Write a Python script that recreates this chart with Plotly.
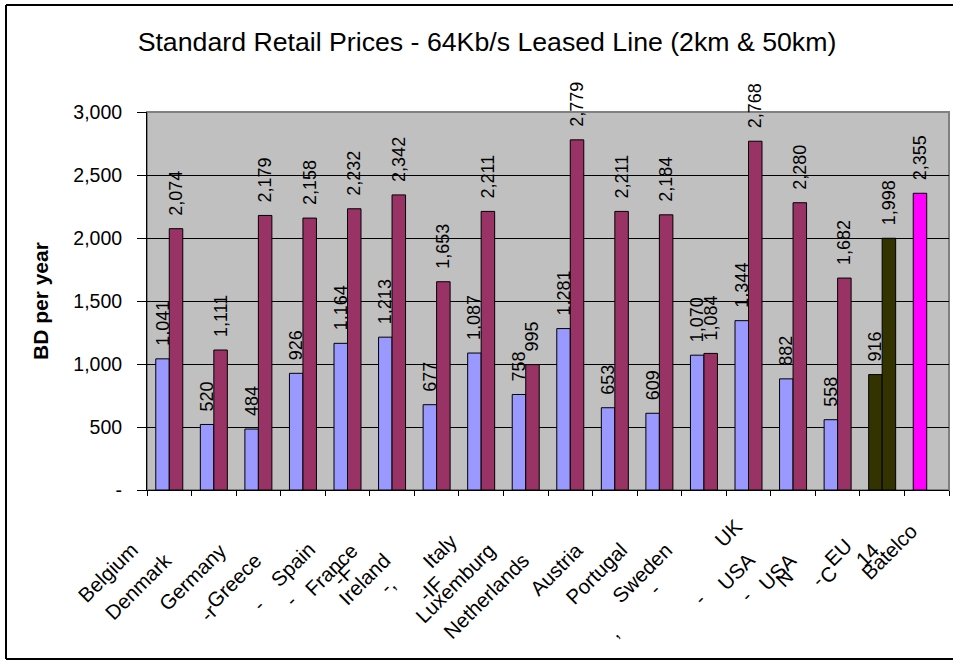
import plotly.graph_objects as go

# ---------------- data ----------------
categories = ["Belgium", "Denmark", "Germany", "Greece", "Spain", "France", "Ireland",
              "Italy", "Luxemburg", "Netherlands", "Austria", "Portugal", "Sweden",
              "UK", "USA", "USA N", "EU 14", "Batelco"]
price_2km = [1041, 520, 484, 926, 1164, 1213, 677, 1087, 758, 1281, 653, 609,
             1070, 1344, 882, 558, 916, 2355]
price_50km = [2074, 1111, 2179, 2158, 2232, 2342, 1653, 2211, 995, 2779, 2211, 2184,
              1084, 2768, 2280, 1682, 1998, None]

y_tick_values = [0, 500, 1000, 1500, 2000, 2500, 3000]
y_tick_labels = ["-", "500", "1,000", "1,500", "2,000", "2,500", "3,000"]

# x-axis label pieces as they appear (category index, text)
label_pieces = [(0, "Belgium"), (1, "Denmark"), (2, "Germany"), (3, "Greece"), (4, "Spain"),
                (5, "France"), (6, "Ireland"), (7, "Italy"), (8, "Luxemburg"),
                (9, "Netherlands"), (10, "Austria"), (11, "Portugal"), (12, "Sweden"),
                (13, "UK"), (14, "USA"), (15, "USA"), (15, "N"), (16, "EU"), (16, "14"),
                (16, "C"), (17, "Batelco")]
# stray label fragments visible in the original (category index, text)
label_fragments = [(3, "-r"), (4, "-"), (5, "-"), (5, "-F"), (6, "-,"), (8, "-IF"),
                   (11, ","), (12, "-"), (13, "-"), (14, "-"), (16, "-")]

title_text = "Standard Retail Prices - 64Kb/s Leased Line (2km & 50km)"
y_title = "BD per year"

# ---------------- style ----------------
FONT = "Liberation Sans, Arial, sans-serif"
col_2km = ["#9999FF"] * 16 + ["#333300", "#FF00FF"]
col_50km = ["#993366"] * 16 + ["#333300", "#993366"]
# (dx from category centre to right edge, px below plot bottom to top edge)
label_offsets = [(-31, 52), (-42, 62), (-31, 52), (-41, 62), (-32, 52), (-34, 52), (-45, 62),
                 (-23, 43), (-29, 52), (-40, 62), (-32, 52), (-32, 52), (-31, 52),
                 (-5, 28), (-38, 62), (-41, 62), (-43, 78), (-30, 48), (-2, 52),
                 (-44, 75), (-9, 33)]
LBL_DX, LBL_DY = 5, -5   # glyph inset correction
# fragment centres (dx from category centre, px below plot bottom)
fragment_offsets = [(-94.5, 122), (-89, 114.5), (-102, 110), (-49.5, 85), (-49.6, 95.5),
                    (-95, 98.5), (-46.4, 141.5), (-49.4, 98.5), (-49, 108.5),
                    (-47.5, 105), (-65.7, 90)]

W, H = 953, 660
ML, MR, MT, MB = 147, 4, 112, 170
PW, PH = W - ML - MR, H - MT - MB

fig = go.Figure()
pad = "\u00a0\u00a0"
for vals, cols, nm in ((price_2km, col_2km, "2km"), (price_50km, col_50km, "50km")):
    fig.add_trace(go.Bar(x=categories, y=vals, name=nm,
                         marker=dict(color=cols, line=dict(color="black", width=1)),
                         texttemplate=pad + "%{y:,}", textposition="outside", textangle=-90,
                         constraintext="none", cliponaxis=False, hoverinfo="skip",
                         textfont=dict(family=FONT, size=18, color="black")))

annotations = []
for (idx, txt), (dx, dy) in zip(label_pieces, label_offsets):
    annotations.append(dict(x=categories[idx], xref="x", y=0, yref="paper",
                            xanchor="right", yanchor="top",
                            xshift=dx + LBL_DX, yshift=-(dy + LBL_DY),
                            text=txt, textangle=-45, showarrow=False, borderpad=0,
                            font=dict(family=FONT, size=20.5, color="black")))
for (idx, txt), (dx, dy) in zip(label_fragments, fragment_offsets):
    annotations.append(dict(x=categories[idx], xref="x", y=0, yref="paper",
                            xanchor="center", yanchor="middle",
                            xshift=dx, yshift=-dy,
                            text=txt, textangle=-45, showarrow=False, borderpad=0,
                            font=dict(family=FONT, size=20.5, color="black")))
annotations.append(dict(x=(40 - ML) / PW, xref="paper", y=0.5, yref="paper",
                        text="<b>" + y_title + "</b>", textangle=-90, showarrow=False,
                        xanchor="center", yanchor="middle",
                        font=dict(family=FONT, size=21, color="black")))


def px_x(p):
    return (p - ML) / PW


def px_y(p):
    return (MT + PH - p) / PH


frame = dict(color="black", width=2)
shapes = [
    dict(type="rect", xref="paper", yref="paper", x0=0, x1=1, y0=0, y1=1,
         line=dict(color="#808080", width=2), layer="below"),
    dict(type="line", xref="paper", yref="paper", x0=px_x(6), x1=px_x(953),
         y0=px_y(5), y1=px_y(5), line=frame),
    dict(type="line", xref="paper", yref="paper", x0=px_x(6), x1=px_x(953),
         y0=px_y(659), y1=px_y(659), line=frame),
    dict(type="line", xref="paper", yref="paper", x0=px_x(6), x1=px_x(6),
         y0=px_y(5), y1=px_y(659), line=frame),
]

fig.update_layout(
    width=W, height=H, margin=dict(l=ML, r=MR, t=MT, b=MB, autoexpand=False),
    paper_bgcolor="white", plot_bgcolor="#C0C0C0",
    barmode="group", bargap=0.394, bargroupgap=0,
    showlegend=False, hovermode=False,
    title=dict(text=title_text, x=487 / W, xref="container", xanchor="center",
               y=1 - 42 / H, yref="container", yanchor="middle",
               font=dict(family=FONT, size=26.7, color="black")),
    xaxis=dict(range=[-0.5, len(categories) - 0.5], autorange=False,
               showticklabels=False, ticks="outside", tickson="boundaries", ticklen=5,
               tickcolor="black", showline=True, linecolor="black", linewidth=1,
               showgrid=False),
    yaxis=dict(range=[0, 3000], autorange=False, tickvals=y_tick_values,
               ticktext=y_tick_labels,
               ticks="outside", ticklen=9, tickcolor="black", showline=True,
               linecolor="black", linewidth=1, showgrid=True, gridcolor="black",
               gridwidth=1, zeroline=False, ticklabelstandoff=11,
               tickfont=dict(family=FONT, size=19.5, color="black")),
    annotations=annotations, shapes=shapes,
)

fig.write_html("out.html", config={"displayModeBar": False},
               post_script="document.body.style.margin='0';"
                           "document.body.style.overflow='hidden';"
                           "document.documentElement.style.overflow='hidden';")
